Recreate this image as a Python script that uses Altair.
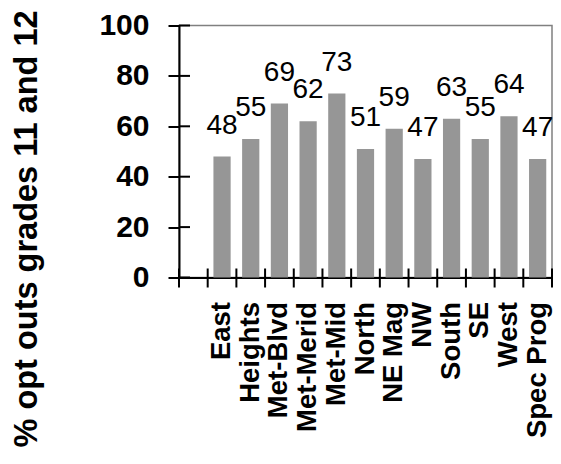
import altair as alt
import pandas as pd

categories = ["East", "Heights", "Met-Blvd", "Met-Merid", "Met-Mid", "North",
              "NE Mag", "NW", "South", "SE", "West", "Spec Prog"]
values = [48, 55, 69, 62, 73, 51, 59, 47, 63, 55, 64, 47]
y_ticks = [0, 20, 40, 60, 80, 100]

domain = [""] + categories  # blank first slot as in the original
df = pd.DataFrame({"school": categories, "pct": values})
df_edges = pd.DataFrame({"school": domain})
df_last = pd.DataFrame({"school": [categories[-1]]})
df_yt = pd.DataFrame({"pct": y_ticks})

FONT = "Liberation Sans"
W, H = 373, 252

x_scale = alt.Scale(domain=domain, paddingInner=0, paddingOuter=0)
y_scale = alt.Scale(domain=[0, 100])

x_axis = alt.Axis(
    title=None, labelAngle=270, labelAlign="right", labelBaseline="middle",
    labelFont=FONT, labelFontSize=27.5, labelFontWeight="bold", labelColor="black",
    labelPadding=14, labelOverlap=False, labelBound=False, labelFlush=False,
    tickSize=10, tickOpacity=0, domainColor="black", domainWidth=2, grid=False,
)
y_axis = alt.Axis(
    title="% opt outs grades 11 and 12", titleFont=FONT, titleFontSize=32.5,
    titleFontWeight="bold", titleColor="black", titleAngle=270,
    titleAlign="center", titleBaseline="alphabetic", titleX=-143, titleY=203,
    values=y_ticks, labelFont=FONT, labelFontSize=30, labelFontWeight="bold",
    labelColor="black", labelPadding=19, tickSize=11, tickWidth=2,
    tickColor="black", domainColor="black", domainWidth=2, grid=False,
)

bars = alt.Chart(df).mark_bar(color="#969696", width=alt.RelativeBandSize(0.6)).encode(
    x=alt.X("school:N", scale=x_scale, axis=x_axis),
    y=alt.Y("pct:Q", scale=y_scale, axis=y_axis),
)
text = alt.Chart(df).mark_text(font=FONT, fontSize=28, color="black",
                               baseline="alphabetic", dy=-23).encode(
    x=alt.X("school:N", scale=x_scale),
    y=alt.Y("pct:Q", scale=y_scale),
    text="pct:Q",
)
# category-boundary tick marks crossing the x axis
x_ticks = alt.Chart(df_edges).mark_rule(color="black", strokeWidth=2).encode(
    x=alt.X("school:N", scale=x_scale, bandPosition=0),
    y=alt.value(H - 9), y2=alt.value(H + 10),
)
x_tick_end = alt.Chart(df_last).mark_rule(color="black", strokeWidth=2).encode(
    x=alt.X("school:N", scale=x_scale, bandPosition=1),
    y=alt.value(H - 9), y2=alt.value(H + 10),
)
# inward halves of the y-axis ticks
y_ticks_in = alt.Chart(df_yt).mark_rule(color="black", strokeWidth=2).encode(
    y=alt.Y("pct:Q", scale=y_scale),
    x=alt.value(0), x2=alt.value(11),
)

chart = alt.layer(bars, text, x_ticks, x_tick_end, y_ticks_in).properties(
    width=W, height=H,
    autosize=alt.AutoSizeParams(type="none"),
    padding={"left": 171, "top": 17.5, "right": 1, "bottom": 171},
).configure_view(stroke="#808080", strokeWidth=1.5)

chart.save("out.html", embed_options={"renderer": "svg", "actions": False})
